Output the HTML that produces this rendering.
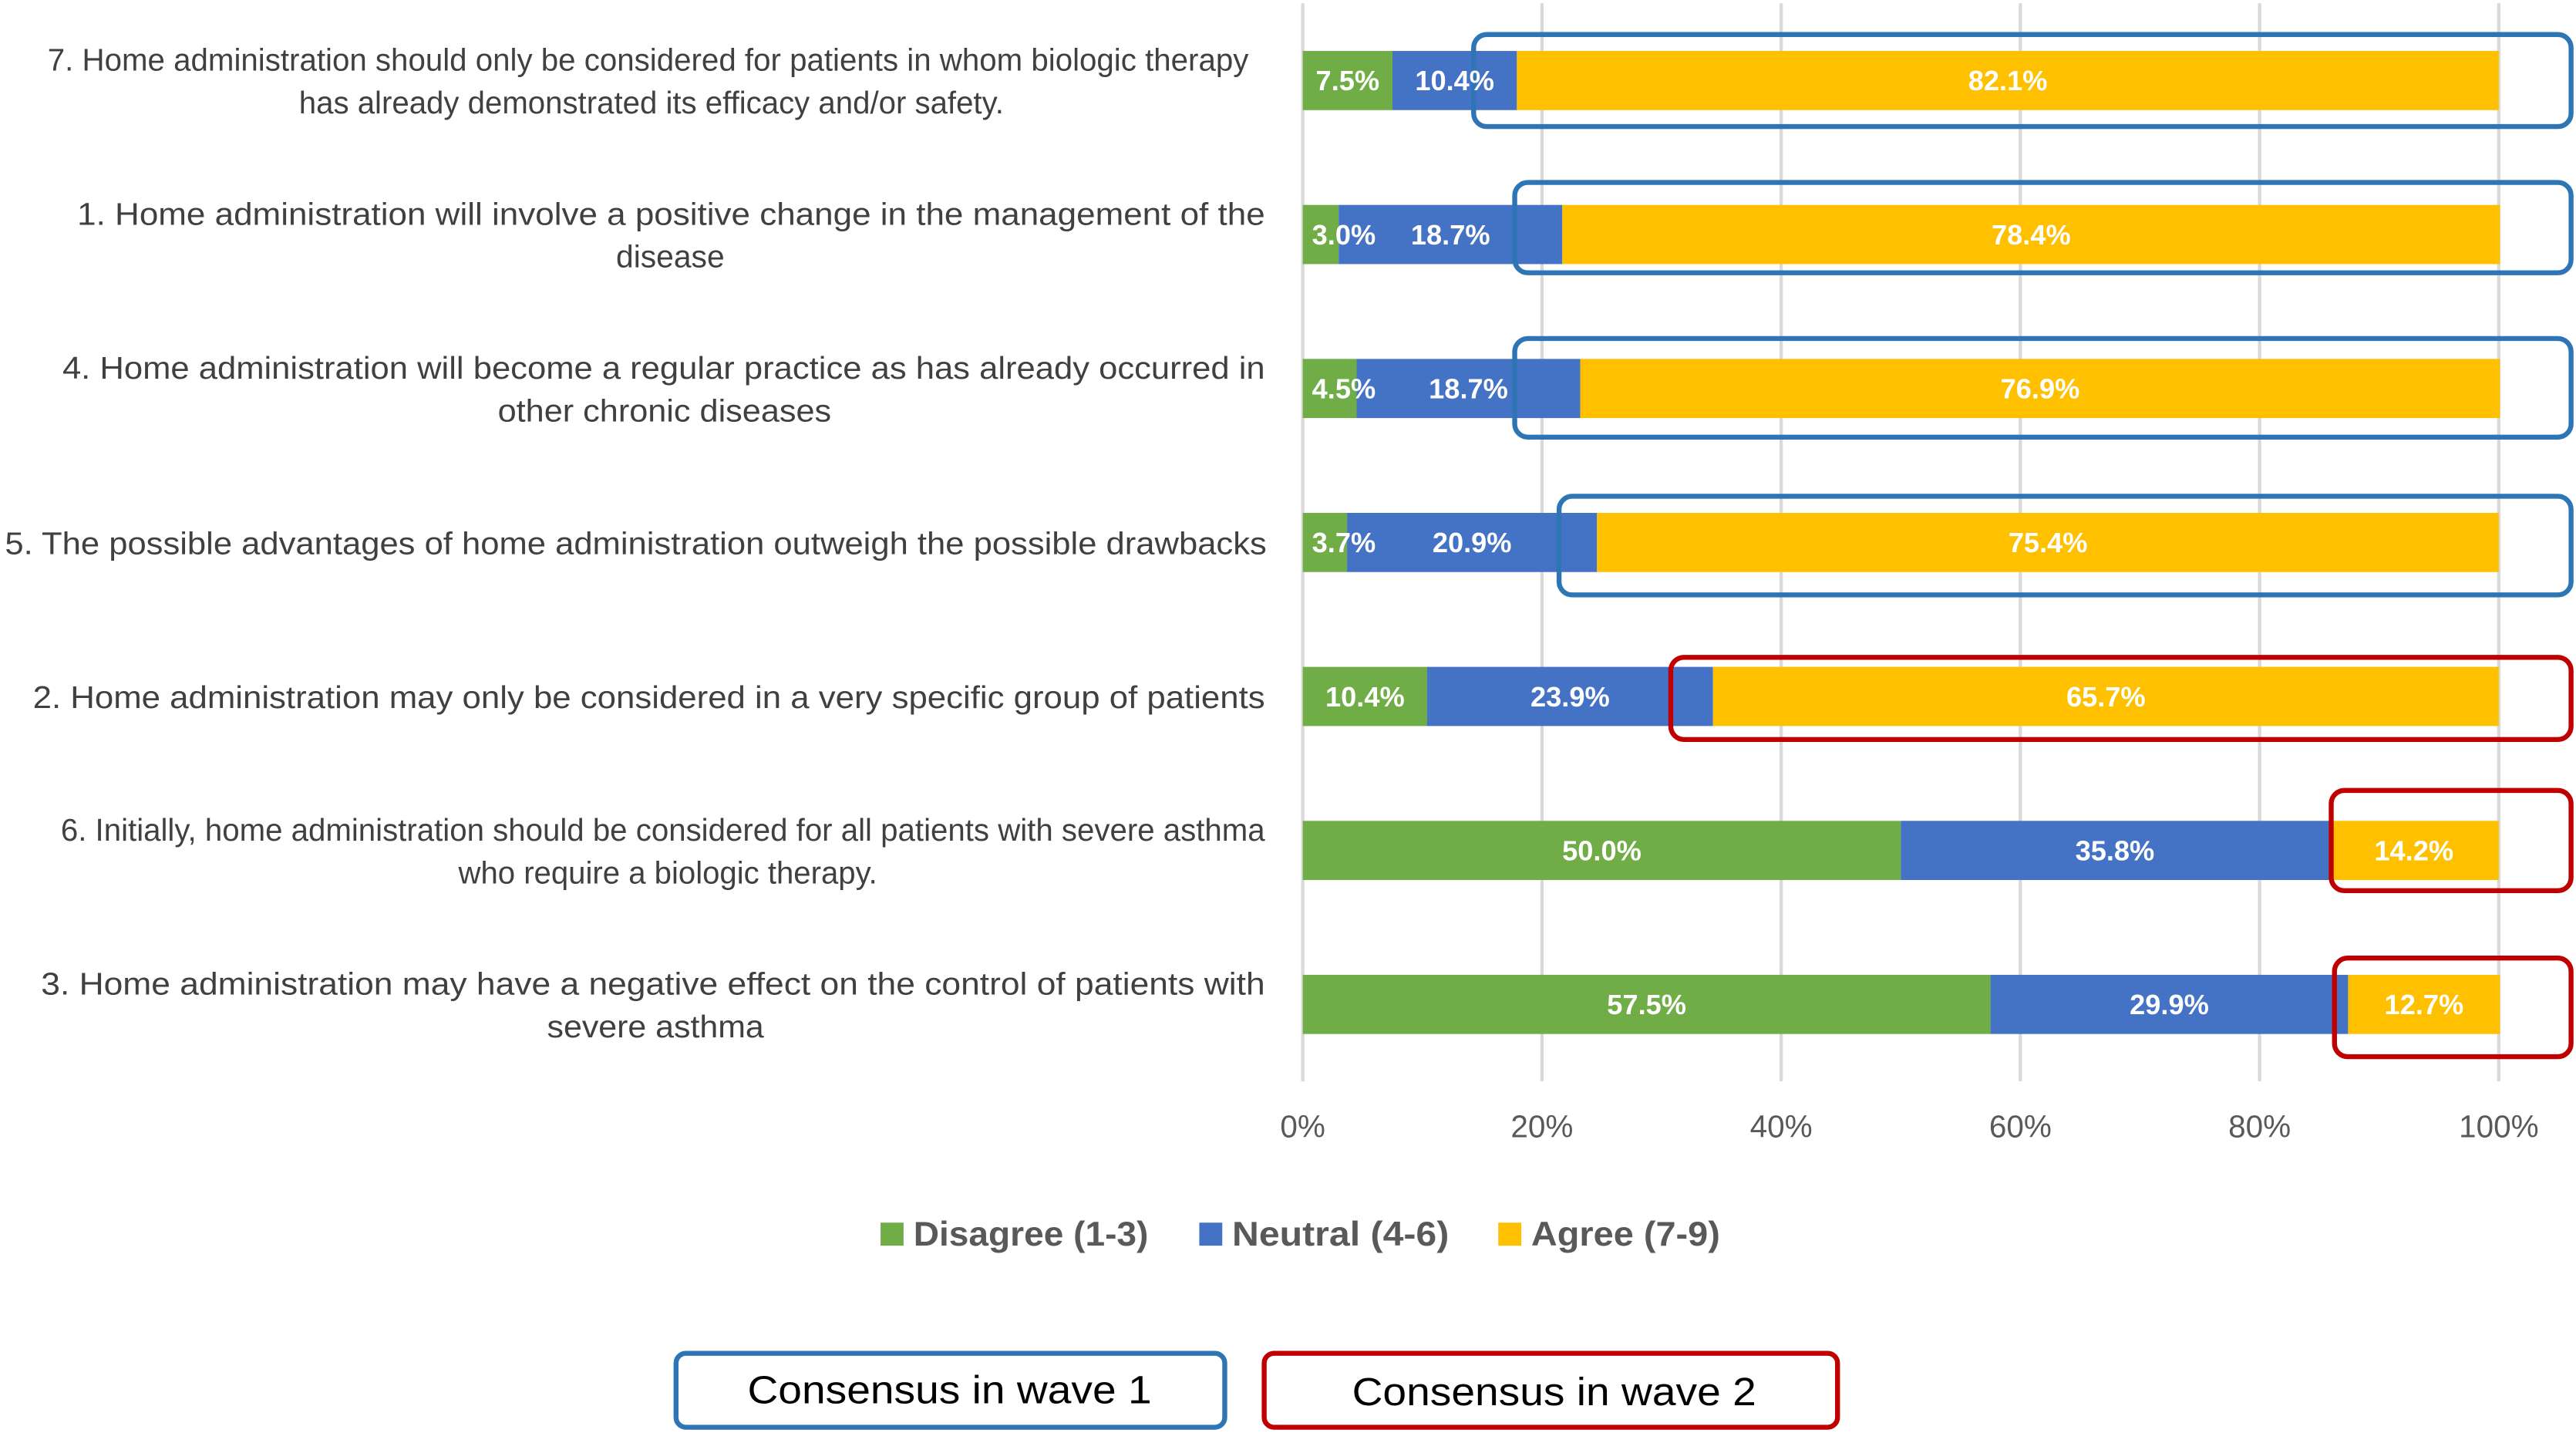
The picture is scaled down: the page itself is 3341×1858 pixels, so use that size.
<!DOCTYPE html>
<html><head><meta charset="utf-8">
<style>
html,body{margin:0;padding:0;background:#fff;}
svg{display:block;}
text{font-family:"Liberation Sans",sans-serif;}
</style></head>
<body>
<svg id="chart" width="3341" height="1858" viewBox="0 0 1568 872" preserveAspectRatio="none" xmlns="http://www.w3.org/2000/svg">
<g id="grid"></g>
<g id="bars"></g>
<g id="boxes"></g>
<g id="vals"></g>
<g id="labels"></g>
<g id="ticks"></g>
<g>
  <rect x="536" y="744" width="14" height="14" fill="#70AD47"/>
  <text x="556" y="758" font-size="21" font-weight="bold" fill="#595959" textLength="143" lengthAdjust="spacingAndGlyphs">Disagree (1-3)</text>
  <rect x="730" y="744" width="14" height="14" fill="#4472C4"/>
  <text x="750" y="758" font-size="21" font-weight="bold" fill="#595959" textLength="132" lengthAdjust="spacingAndGlyphs">Neutral (4-6)</text>
  <rect x="912" y="744" width="14" height="14" fill="#FFC000"/>
  <text x="932" y="758" font-size="21" font-weight="bold" fill="#595959" textLength="115" lengthAdjust="spacingAndGlyphs">Agree (7-9)</text>
</g>
<g>
  <rect x="411.5" y="823.5" width="334" height="45" rx="6" fill="none" stroke="#2E75B6" stroke-width="3"/>
  <text x="578" y="854" font-size="24" text-anchor="middle" fill="#000" textLength="246" lengthAdjust="spacingAndGlyphs">Consensus in wave 1</text>
  <rect x="769.5" y="823.5" width="349" height="45" rx="6" fill="none" stroke="#C00000" stroke-width="3"/>
  <text x="946" y="855" font-size="24" text-anchor="middle" fill="#000" textLength="246" lengthAdjust="spacingAndGlyphs">Consensus in wave 2</text>
</g>
</svg>
<script>
const categories1 = ["7. Home administration should only be considered for patients in whom biologic therapy","1. Home administration will involve a positive change in the management of the","4. Home administration will become a regular practice as has already occurred in","5. The possible advantages of home administration outweigh the possible drawbacks","2. Home administration may only be considered in a very specific group of patients","6. Initially, home administration should be considered for all patients with severe asthma","3. Home administration may have a negative effect on the control of patients with"];
const categories2 = ["has already demonstrated its efficacy and/or safety.","disease","other chronic diseases","","","who require a biologic therapy.","severe asthma"];
const disagree = [7.5,3.0,4.5,3.7,10.4,50.0,57.5];
const neutral = [10.4,18.7,18.7,20.9,23.9,35.8,29.9];
const agree = [82.1,78.4,76.9,75.4,65.7,14.2,12.7];
const consensusWave = [1,1,1,1,2,2,2];
const tickValues = [0,20,40,60,80,100];
const tickLabels = ["0%","20%","40%","60%","80%","100%"];

// layout (pixel) arrays
const line1Left = [29,47,38,3,20,37,25];
const line1Right = [760,770,770,771,770,770,770];
const line2Span = [[182,611],[375,441],[303,506],null,null,[279,534],[333,465]];
const boxLeft = [897,922,922,949,1017,1419,1421];
const boxTop = [21,111,206,302,400,481,583];
const boxBottom = [77,166,266,362,450,542,643];

const NS="http://www.w3.org/2000/svg";
const X0=793,X1=1521,rowTop=49,rowStep=93.7,barH=36;
const xs=v=>X0+(X1-X0)*v/100;
const ys=i=>rowTop+rowStep*i;
function mk(tag,attrs,parent){const e=document.createElementNS(NS,tag);for(const k in attrs)e.setAttribute(k,attrs[k]);parent.appendChild(e);return e;}
const grid=document.getElementById('grid'),bars=document.getElementById('bars'),vals=document.getElementById('vals'),labels=document.getElementById('labels'),boxes=document.getElementById('boxes'),ticks=document.getElementById('ticks');
tickValues.forEach((t,i)=>{
  const l=mk('line',{x1:xs(t),x2:xs(t),y1:2,y2:658,stroke:'#D9D9D9','stroke-width':2},grid);
  
  
  const tx=mk('text',{x:xs(t),y:692,'font-size':19,'text-anchor':'middle',fill:'#595959'},ticks);
  tx.textContent=tickLabels[i];
  
  
});
const series=[[disagree,'#70AD47','disagree'],[neutral,'#4472C4','neutral'],[agree,'#FFC000','agree']];
categories1.forEach((c,i)=>{
  const cy=ys(i);let acc=0;
  series.forEach(([arr,col,nm])=>{
    const v=arr[i];
    const r=mk('rect',{x:xs(acc),y:cy-barH/2,width:xs(acc+v)-xs(acc),height:barH,fill:col},bars);
    
    
    let cx=(xs(acc)+xs(acc+v))/2;
    if(acc===0) cx=Math.max(cx,X0+4+21);
    const t=mk('text',{x:cx,y:cy+6,'font-size':17,'font-weight':'bold','text-anchor':'middle',fill:'#fff'},vals);
    t.textContent=v.toFixed(1)+'%';
    
    
    acc+=v;
  });
  const two=categories2[i]!=="";
  const t1=mk('text',{x:line1Left[i],y:two?cy-6:cy+7,'font-size':19,fill:'#404040',textLength:line1Right[i]-line1Left[i],lengthAdjust:'spacingAndGlyphs'},labels);
  t1.textContent=c;
  
  
  if(two){
    const sp=line2Span[i];
    const t2=mk('text',{x:sp[0],y:cy+20,'font-size':19,fill:'#404040',textLength:sp[1]-sp[0],lengthAdjust:'spacingAndGlyphs'},labels);
    t2.textContent=categories2[i];
    
    
  }
  const b=mk('rect',{x:boxLeft[i],y:boxTop[i],width:1565-boxLeft[i],height:boxBottom[i]-boxTop[i],rx:8,fill:'none',stroke:consensusWave[i]===1?'#2E75B6':'#C00000','stroke-width':3},boxes);
  
  
});
</script>
</body></html>
